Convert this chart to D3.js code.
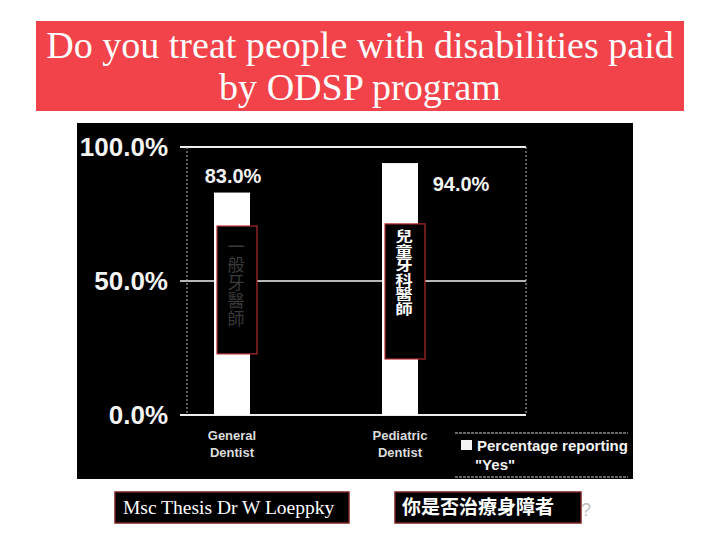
<!DOCTYPE html>
<html><head><meta charset="utf-8">
<script src="https://cdn.jsdelivr.net/npm/d3@7"></script>
<style>body{margin:0;background:#fff}svg{display:block}</style>
</head><body>
<script>
const titleLines = ["Do you treat people with disabilities paid", "by ODSP program"];
const categories = ["General Dentist", "Pediatric Dentist"];
const categoryLines = [["General", "Dentist"], ["Pediatric", "Dentist"]];
const values = [83.0, 94.0];
const valueLabels = ["83.0%", "94.0%"];
const yTicks = [0, 50, 100];
const yTickLabels = ["0.0%", "50.0%", "100.0%"];
const legendLines = ["Percentage reporting", "\"Yes\""];
const chineseLabels = ["一般牙醫師", "兒童牙科醫師"];
const footerLeft = "Msc Thesis Dr W Loeppky";
const footerRight = "你是否治療身障者";

const W = 720, H = 540;
const svg = d3.select("body").append("svg").attr("width", W).attr("height", H);

// Title box
svg.append("rect").attr("x", 36).attr("y", 21).attr("width", 648).attr("height", 90).attr("fill", "#f2434a");
const tfont = "'Liberation Serif','DejaVu Serif',serif";
const t1 = svg.append("text").attr("x", 360).attr("y", 58).attr("text-anchor", "middle")
  .attr("font-family", tfont).attr("font-size", 33).attr("fill", "#fff").text(titleLines[0]);
const w1 = t1.node().getComputedTextLength();
const fs = 33 * 628 / w1;
t1.attr("font-size", fs);
svg.append("text").attr("x", 360).attr("y", 100).attr("text-anchor", "middle")
  .attr("font-family", tfont).attr("font-size", fs).attr("fill", "#fff").text(titleLines[1]);

// Chart panel
svg.append("rect").attr("x", 77).attr("y", 123).attr("width", 556).attr("height", 356).attr("fill", "#000");

const plotL = 187, plotR = 526;
const y = d3.scaleLinear().domain([0, 100]).range([415, 147]);
const x = d3.scalePoint().domain(categories).range([232, 400]);
const barW = 36;
const sans = "'Liberation Sans',Arial,sans-serif";
const g = svg.append("g");

// frame
g.append("line").attr("x1", 180).attr("x2", plotR).attr("y1", y(100)).attr("y2", y(100)).attr("stroke", "#ededed").attr("stroke-width", 2);
g.append("line").attr("x1", 180).attr("x2", plotR).attr("y1", y(0)).attr("y2", y(0)).attr("stroke", "#ededed").attr("stroke-width", 2);
g.append("line").attr("x1", 180).attr("x2", plotR).attr("y1", y(50)).attr("y2", y(50)).attr("stroke", "#f4f4f4").attr("stroke-width", 1.5);
[plotL, plotR].forEach(xx => g.append("line").attr("x1", xx).attr("x2", xx).attr("y1", y(100)).attr("y2", y(0))
  .attr("stroke", "#bbb").attr("stroke-width", 1).attr("stroke-dasharray", "2,2"));

// y axis labels
const yAxis = d3.axisLeft(y).tickValues(yTicks).tickSize(0).tickPadding(0)
  .tickFormat((d, i) => yTickLabels[i]);
const ya = svg.append("g").attr("transform", "translate(168,0)").call(yAxis);
ya.select(".domain").remove();
ya.selectAll("text").attr("font-family", sans).attr("font-weight", "bold").attr("font-size", 26)
  .attr("fill", "#f4f4f4").attr("x", 0);

// bars
g.selectAll(".bar").data(values).join("rect").attr("class", "bar")
  .attr("x", (d, i) => x(categories[i]) - barW / 2).attr("width", barW)
  .attr("y", d => y(d)).attr("height", d => y(0) - y(d)).attr("fill", "#fff");

// value labels
const labelOffsets = [[1, -17], [61, 21]];
g.selectAll(".vl").data(values).join("text").attr("class", "vl")
  .attr("x", (d, i) => x(categories[i]) + labelOffsets[i][0])
  .attr("y", (d, i) => y(d) + labelOffsets[i][1]).attr("dy", "0.35em")
  .attr("text-anchor", "middle").attr("font-family", sans).attr("font-weight", "bold")
  .attr("font-size", 20).attr("fill", "#f4f4f4").text((d, i) => valueLabels[i]);

// category labels
categoryLines.forEach((lines, i) => {
  lines.forEach((s, j) => {
    svg.append("text").attr("x", x(categories[i])).attr("y", 440 + j * 17)
      .attr("text-anchor", "middle").attr("font-family", sans).attr("font-weight", "bold")
      .attr("font-size", 13).attr("fill", "#dcdcdc").text(s);
  });
});

// annotation boxes with vertical Chinese text
const annTop = [70.5, 71.3], annBot = [22.8, 20.9];
const annColor = ["#3a3a3a", "#ffffff"];
const annSize = [17, 14], annSpacing = [1, 0.5], annStart = [12, 5], annSX = [1, 1.25];
const cjk = "'Noto Sans CJK TC','Noto Sans CJK SC',sans-serif";
chineseLabels.forEach((s, i) => {
  const cx = x(categories[i]) + 5;
  svg.append("rect").attr("x", cx - 20).attr("y", y(annTop[i])).attr("width", 40)
    .attr("height", y(annBot[i]) - y(annTop[i])).attr("fill", "#000")
    .attr("stroke", "#b22a2a").attr("stroke-width", 1.2);
  const ty = y(annTop[i]) + annStart[i];
  svg.append("text").attr("transform", `translate(${cx - 1},${ty}) scale(${annSX[i]},1)`)
    .style("writing-mode", "vertical-rl").style("letter-spacing", annSpacing[i] + "px")
    .attr("font-family", cjk).attr("font-weight", i === 1 ? "bold" : "normal")
    .attr("font-size", annSize[i]).attr("fill", annColor[i]).text(s);
});

// legend
[433, 477].forEach(yy => svg.append("line").attr("x1", 455).attr("x2", 628).attr("y1", yy).attr("y2", yy)
  .attr("stroke", "#ccc").attr("stroke-width", 1).attr("stroke-dasharray", "3,1"));
svg.append("rect").attr("x", 461).attr("y", 440).attr("width", 11).attr("height", 10).attr("fill", "#f4f4f4");
svg.append("text").attr("x", 477).attr("y", 451).attr("font-family", sans).attr("font-weight", "bold")
  .attr("font-size", 15).attr("fill", "#f4f4f4").text(legendLines[0]);
svg.append("text").attr("x", 475).attr("y", 470).attr("font-family", sans).attr("font-weight", "bold")
  .attr("font-size", 15).attr("fill", "#f4f4f4").text(legendLines[1]);

// footer boxes
svg.append("rect").attr("x", 115).attr("y", 492).attr("width", 234).attr("height", 31)
  .attr("fill", "#000").attr("stroke", "#7a2222").attr("stroke-width", 1.5);
svg.append("text").attr("x", 123).attr("y", 514).attr("font-family", tfont).attr("font-size", 19.5)
  .attr("fill", "#fff").text(footerLeft);
svg.append("rect").attr("x", 395).attr("y", 492).attr("width", 186).attr("height", 31)
  .attr("fill", "#000").attr("stroke", "#7a2222").attr("stroke-width", 1.5);
svg.append("text").attr("x", 402).attr("y", 514).attr("font-family", cjk)
  .attr("font-size", 19).attr("font-weight", "bold").attr("fill", "#fff").text(footerRight);
svg.append("text").attr("x", 581).attr("y", 516).attr("font-family", sans)
  .attr("font-size", 18).attr("fill", "#c0c0c0").text("?");
</script>
</body></html>
